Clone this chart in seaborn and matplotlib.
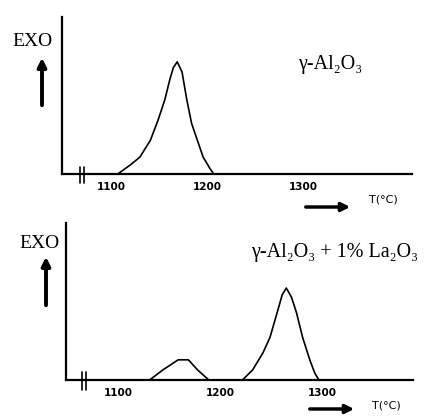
import numpy as np
import pandas as pd
import matplotlib
matplotlib.use("Agg")
import matplotlib.pyplot as plt
from matplotlib.lines import Line2D
import seaborn as sns

# ---- data ----
top_T = [1107, 1120, 1130, 1141, 1149, 1156, 1161.5, 1165, 1169, 1174, 1179,
         1184, 1190, 1196, 1203, 1207]
top_y = [0, 0.08, 0.15, 0.30, 0.48, 0.66, 0.85, 0.95, 1.0, 0.91, 0.66,
         0.45, 0.30, 0.15, 0.05, 0]
small_T = [1131, 1144, 1159, 1169, 1178, 1189]
small_y = [0, 0.09, 0.18, 0.18, 0.09, 0]
big_T = [1222, 1232, 1242, 1249, 1256, 1261, 1265, 1270, 1275, 1281, 1288, 1293, 1297]
big_y = [0, 0.09, 0.24, 0.38, 0.60, 0.76, 0.82, 0.74, 0.60, 0.38, 0.18, 0.06, 0]
tick_vals = [1100, 1200, 1300]
tick_labels = ["1100", "1200", "1300"]
top_title = "γ-Al₂O₃"
bot_title = "γ-Al₂O₃ + 1% La₂O₃"

sns.set_style("white")
plt.rcParams['font.family'] = ['Liberation Serif', 'DejaVu Serif']
plt.rcParams['text.color'] = 'black'
plt.rcParams['xtick.color'] = 'black'

W, H = 427, 417
fig = plt.figure(figsize=(W / 100, H / 100), dpi=100)


def fx(x):
    return x / W


def fy(y):
    return 1 - y / H


def make_axes(l, t, r, b):
    return fig.add_axes([fx(l), fy(b), (r - l) / W, (b - t) / H])


def style(ax, xlim):
    ax.set_xlim(*xlim)
    ax.set_ylim(0, 1.4)
    for s in ["top", "right"]:
        ax.spines[s].set_visible(False)
    for s in ["left", "bottom"]:
        ax.spines[s].set_color("black")
        ax.spines[s].set_linewidth(1.6)
    ax.set_yticks([])
    ax.set_xticks(tick_vals)
    ax.set_xticklabels(tick_labels, family="DejaVu Sans", fontsize=7.5,
                       fontweight="bold", color="black")
    ax.tick_params(axis="x", length=0, pad=6)
    ax.set_xlabel("")
    ax.set_ylabel("")
    ax.set_facecolor("white")


# top panel
ax1 = make_axes(62, 17, 412, 174)
df1 = pd.DataFrame({"T": top_T, "y": top_y})
sns.lineplot(data=df1, x="T", y="y", ax=ax1, color="black", lw=1.2,
             sort=False, estimator=None)
style(ax1, (1100 - (111 - 62) / 0.96, 1100 + (412 - 111) / 0.96))

# bottom panel
ax2 = make_axes(66, 223, 413, 380)
for Ts, ys in [(small_T, small_y), (big_T, big_y)]:
    d = pd.DataFrame({"T": Ts, "y": ys})
    sns.lineplot(data=d, x="T", y="y", ax=ax2, color="black", lw=1.2,
                 sort=False, estimator=None)
style(ax2, (1100 - (118 - 66) / 1.02, 1100 + (413 - 118) / 1.02))

# axis break marks
for x0, y0, y1 in [(80, 167, 183), (84, 167, 183), (82, 372, 390), (86, 372, 390)]:
    fig.add_artist(Line2D([fx(x0), fx(x0)], [fy(y0), fy(y1)], color="black", lw=1.2))

# EXO labels and up arrows
fig.text(fx(32), fy(42), "EXO", fontsize=14, ha="center", va="center", color="black")
fig.text(fx(39), fy(243), "EXO", fontsize=14, ha="center", va="center", color="black")
for x, y0, y1 in [(42, 108, 55), (46, 308, 254)]:
    fig.add_artist(matplotlib.patches.FancyArrowPatch(
        (fx(x), fy(y0)), (fx(x), fy(y1)), transform=fig.transFigure,
        arrowstyle="-|>,head_length=0.5,head_width=0.25", lw=2.8,
        color="black", mutation_scale=10))

# titles
fig.text(fx(330), fy(65), top_title, fontsize=14.5, ha="center", va="center", color="black")
fig.text(fx(335), fy(253), bot_title, fontsize=14.5, ha="center", va="center", color="black")

# T(°C) arrows
for x0, x1, y, tx, ty in [(303, 353, 207, 383, 200), (307, 357, 409, 386, 405)]:
    fig.add_artist(matplotlib.patches.FancyArrowPatch(
        (fx(x0), fy(y)), (fx(x1), fy(y)), transform=fig.transFigure,
        arrowstyle="-|>,head_length=0.5,head_width=0.25", lw=2.5,
        color="black", mutation_scale=10))
    fig.text(fx(tx), fy(ty), "T(°C)", fontsize=8, ha="center", va="center",
             family="DejaVu Sans", color="black")

fig.savefig("out.png", dpi=100, facecolor="white")
